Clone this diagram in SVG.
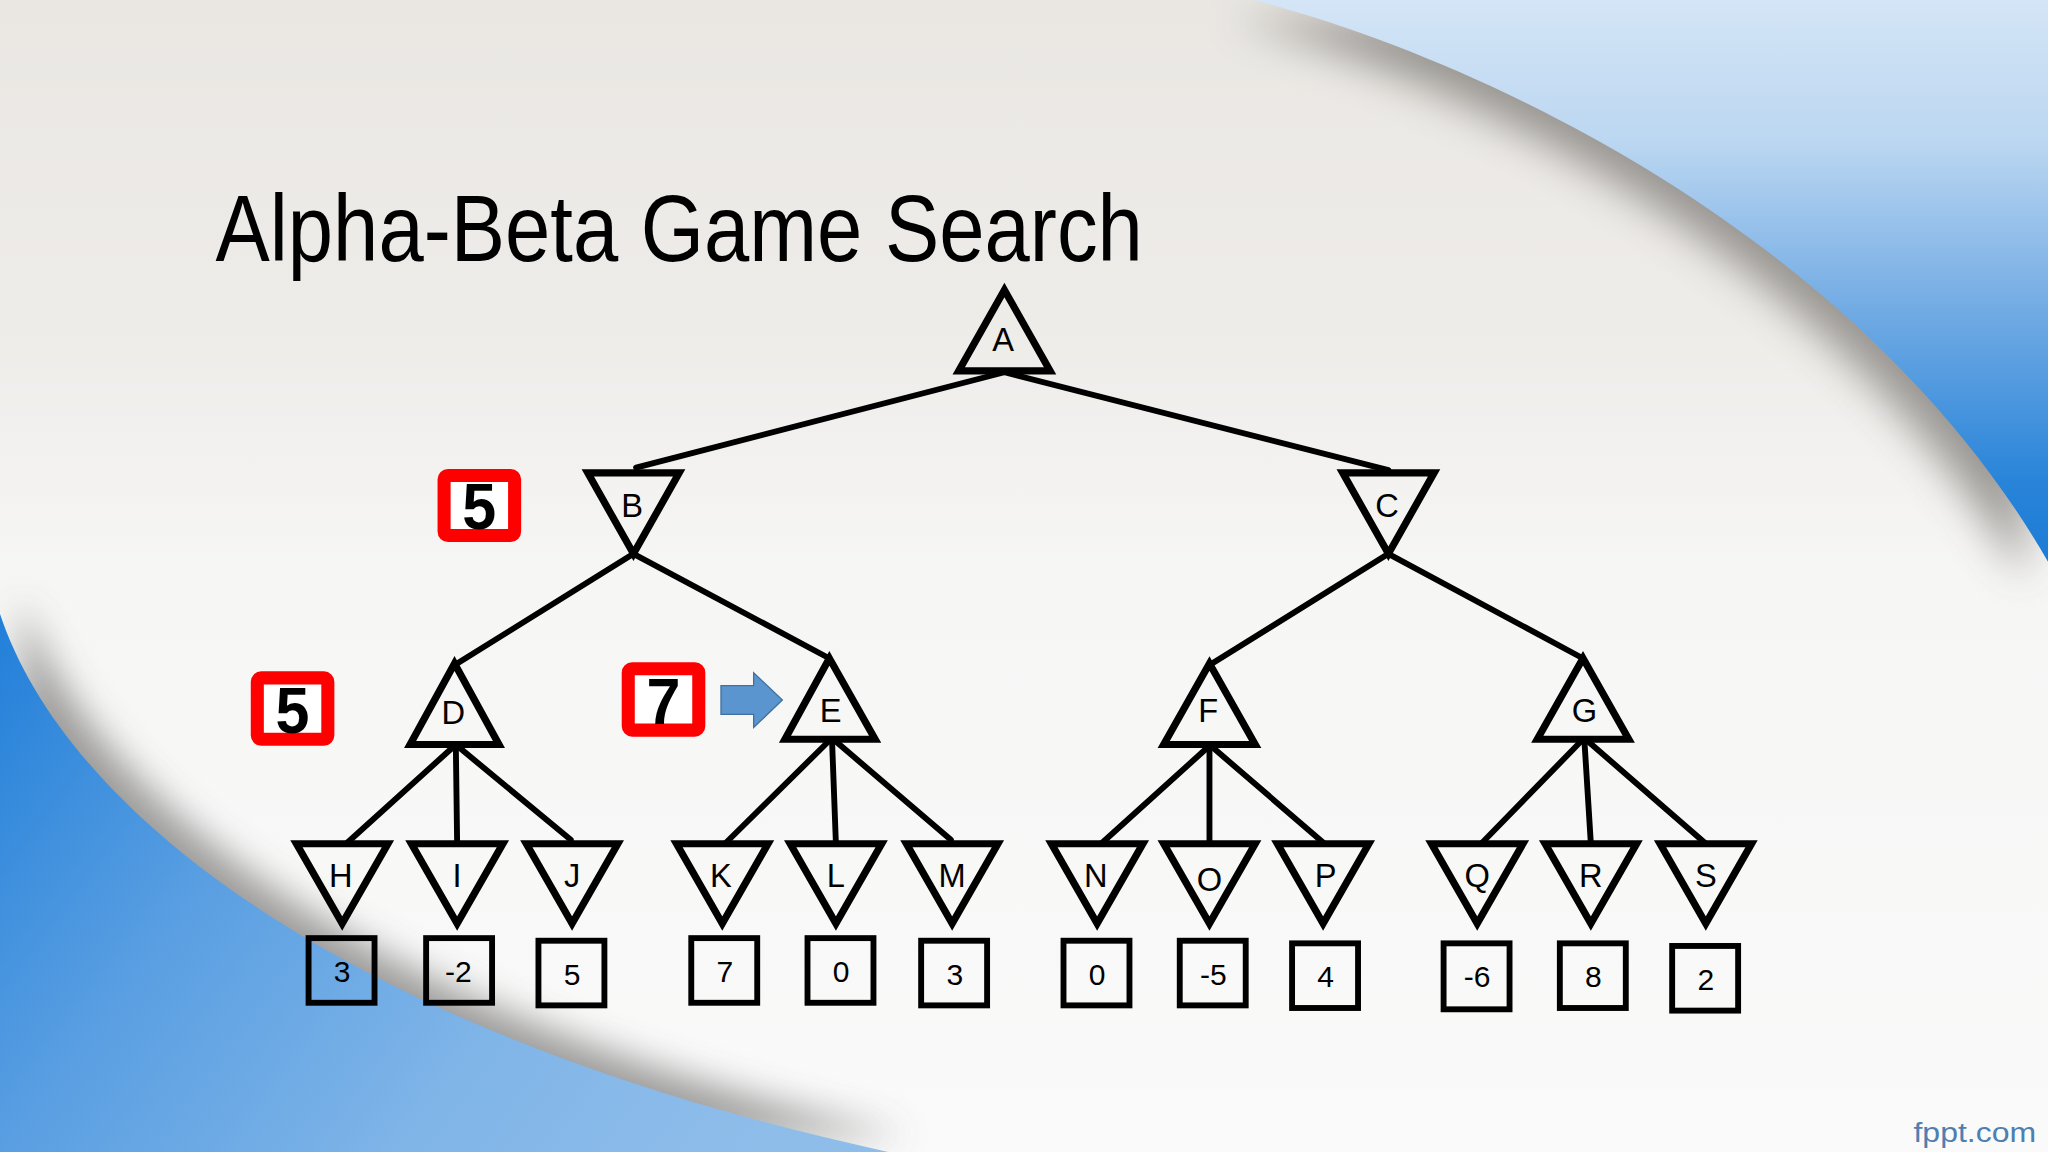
<svg xmlns="http://www.w3.org/2000/svg" width="2048" height="1152" viewBox="0 0 2048 1152">
  <defs>
    <linearGradient id="bg" x1="0" y1="0" x2="0" y2="1">
      <stop offset="0" stop-color="#eae7e3"/>
      <stop offset="0.28" stop-color="#eeece9"/>
      <stop offset="0.5" stop-color="#f6f6f5"/>
      <stop offset="1" stop-color="#fafafa"/>
    </linearGradient>
    <linearGradient id="blueTRu" x1="0" y1="0" x2="0" y2="430" gradientUnits="userSpaceOnUse">
      <stop offset="0" stop-color="#d4e5f6"/>
      <stop offset="0.25" stop-color="#bcd7f1"/>
      <stop offset="0.55" stop-color="#72abe4"/>
      <stop offset="0.85" stop-color="#2a85d9"/>
      <stop offset="1" stop-color="#1b7bd6"/>
    </linearGradient>
    <linearGradient id="blueBL" x1="0" y1="480" x2="560" y2="900" gradientUnits="userSpaceOnUse">
      <stop offset="0" stop-color="#2380d9"/>
      <stop offset="0.35" stop-color="#5a9fe2"/>
      <stop offset="0.7" stop-color="#80b5e8"/>
      <stop offset="1" stop-color="#8fbdea"/>
    </linearGradient>
    <filter id="soft" x="-50%" y="-50%" width="200%" height="200%">
      <feGaussianBlur stdDeviation="16"/>
    </filter>
    <filter id="soft2" x="-50%" y="-50%" width="200%" height="200%">
      <feGaussianBlur stdDeviation="14"/>
    </filter>
    <style>
      .tri { fill: none; stroke: #000; stroke-width: 5.5; stroke-linejoin: miter; }
      .edge { stroke: #000; stroke-width: 4.5; fill: none; stroke-linecap: round; }
      .lbl { font-family: "Liberation Sans", Arial, sans-serif; font-size: 25px; fill: #000; text-anchor: middle; }
      .box { fill: none; stroke: #000; stroke-width: 4.5; }
      .val { font-family: "Liberation Sans", Arial, sans-serif; font-size: 23px; fill: #000; text-anchor: middle; }
      .rbox { fill: #ffffff; stroke: #ff0000; stroke-width: 10; }
      .rval { font-family: "Liberation Sans", Arial, sans-serif; font-size: 50px; font-weight: bold; fill: #000; text-anchor: middle; }
    </style>
  </defs>

  <g transform="scale(1.3061224)">
    <g id="background">
      <rect x="0" y="0" width="1568" height="882" fill="url(#bg)"/>
      <path d="M 960,0 C 1150,50 1430,190 1568,430 L 1568,0 Z" fill="#8a8783" opacity="0.85" transform="translate(-18,14)" filter="url(#soft)"/>
      <path d="M 960,0 C 1150,50 1430,190 1568,430 L 1568,0 Z" fill="url(#blueTRu)"/>
      <path d="M 0,470 C 50,620 260,790 680,882 L 0,882 Z" fill="#8c8b8a" opacity="0.85" transform="translate(16,-12)" filter="url(#soft2)"/>
      <path d="M 0,470 C 50,620 260,790 680,882 L 0,882 Z" fill="url(#blueBL)"/>
    </g>

    <text id="title" x="165" y="200" font-family="Liberation Sans, Arial, sans-serif" font-size="73" fill="#000" textLength="710" lengthAdjust="spacingAndGlyphs">Alpha-Beta Game Search</text>

    <g id="connectors">
      <line class="edge" x1="769" y1="285" x2="487" y2="358"/>
      <line class="edge" x1="769" y1="285" x2="1063" y2="360"/>
      <line class="edge" x1="485" y1="424" x2="350" y2="508"/>
      <line class="edge" x1="485" y1="424" x2="633" y2="503"/>
      <line class="edge" x1="1063" y1="424" x2="928" y2="508"/>
      <line class="edge" x1="1063" y1="424" x2="1210" y2="503"/>
      <line class="edge" x1="348" y1="571" x2="265" y2="646"/>
      <line class="edge" x1="349" y1="571" x2="350" y2="646"/>
      <line class="edge" x1="350" y1="571" x2="437" y2="643"/>
      <line class="edge" x1="636" y1="566" x2="555" y2="646"/>
      <line class="edge" x1="637" y1="566" x2="640" y2="646"/>
      <line class="edge" x1="638" y1="566" x2="728" y2="643"/>
      <line class="edge" x1="926" y1="571" x2="843" y2="646"/>
      <line class="edge" x1="926" y1="571" x2="926" y2="646"/>
      <line class="edge" x1="927" y1="571" x2="1013" y2="645"/>
      <line class="edge" x1="1212" y1="566" x2="1134" y2="646"/>
      <line class="edge" x1="1213" y1="566" x2="1218" y2="646"/>
      <line class="edge" x1="1214" y1="566" x2="1305" y2="645"/>
    </g>

    <g id="node-A"><polygon class="tri" points="769,222 734,284 804,284"/><text class="lbl" x="768" y="269">A</text></g>
    <g id="node-B"><polygon class="tri" points="450,362 520,362 485,424"/><text class="lbl" x="484" y="396">B</text></g>
    <g id="node-C"><polygon class="tri" points="1028,362 1098,362 1063,424"/><text class="lbl" x="1062" y="396">C</text></g>
    <g id="node-D"><polygon class="tri" points="348,508 314,570 382,570"/><text class="lbl" x="347" y="554">D</text></g>
    <g id="node-E"><polygon class="tri" points="635,504 601,566 670,566"/><text class="lbl" x="636" y="553">E</text></g>
    <g id="node-F"><polygon class="tri" points="926,508 891,570 961,570"/><text class="lbl" x="925" y="553">F</text></g>
    <g id="node-G"><polygon class="tri" points="1212,504 1177,566 1247,566"/><text class="lbl" x="1213" y="553">G</text></g>

    <g id="node-H"><polygon class="tri" points="227,646 297,646 262,707"/><text class="lbl" x="261" y="679">H</text></g>
    <g id="node-I"><polygon class="tri" points="315,646 385,646 350,707"/><text class="lbl" x="350" y="679">I</text></g>
    <g id="node-J"><polygon class="tri" points="403,646 473,646 438,707"/><text class="lbl" x="438" y="679">J</text></g>
    <g id="node-K"><polygon class="tri" points="518,646 588,646 553,707"/><text class="lbl" x="552" y="679">K</text></g>
    <g id="node-L"><polygon class="tri" points="605,646 675,646 640,707"/><text class="lbl" x="640" y="679">L</text></g>
    <g id="node-M"><polygon class="tri" points="694,646 764,646 729,707"/><text class="lbl" x="729" y="679">M</text></g>
    <g id="node-N"><polygon class="tri" points="805,646 875,646 840,707"/><text class="lbl" x="839" y="679">N</text></g>
    <g id="node-O"><polygon class="tri" points="891,646 961,646 926,707"/><text class="lbl" x="926" y="682">O</text></g>
    <g id="node-P"><polygon class="tri" points="978,646 1048,646 1013,707"/><text class="lbl" x="1015" y="679">P</text></g>
    <g id="node-Q"><polygon class="tri" points="1096,646 1166,646 1131,707"/><text class="lbl" x="1131" y="679">Q</text></g>
    <g id="node-R"><polygon class="tri" points="1183,646 1253,646 1218,707"/><text class="lbl" x="1218" y="679">R</text></g>
    <g id="node-S"><polygon class="tri" points="1271,646 1341,646 1306,707"/><text class="lbl" x="1306" y="679">S</text></g>

    <g id="leaf-H"><rect class="box" x="236.25" y="718.25" width="50.5" height="49.5"/><text class="val" x="262" y="752">3</text></g>
    <g id="leaf-I"><rect class="box" x="326.25" y="718.25" width="50.5" height="49.5"/><text class="val" x="351" y="752">-2</text></g>
    <g id="leaf-J"><rect class="box" x="412.25" y="720.25" width="50.5" height="49.5"/><text class="val" x="438" y="754">5</text></g>
    <g id="leaf-K"><rect class="box" x="529.25" y="718.25" width="50.5" height="49.5"/><text class="val" x="555" y="752">7</text></g>
    <g id="leaf-L"><rect class="box" x="618.25" y="718.25" width="50.5" height="49.5"/><text class="val" x="644" y="752">0</text></g>
    <g id="leaf-M"><rect class="box" x="705.25" y="720.25" width="50.5" height="49.5"/><text class="val" x="731" y="754">3</text></g>
    <g id="leaf-N"><rect class="box" x="814.25" y="720.25" width="50.5" height="49.5"/><text class="val" x="840" y="754">0</text></g>
    <g id="leaf-O"><rect class="box" x="903.25" y="720.25" width="50.5" height="49.5"/><text class="val" x="929" y="754">-5</text></g>
    <g id="leaf-P"><rect class="box" x="989.25" y="722.25" width="50.5" height="49.5"/><text class="val" x="1015" y="756">4</text></g>
    <g id="leaf-Q"><rect class="box" x="1105.25" y="722.25" width="50.5" height="50.5"/><text class="val" x="1131" y="756">-6</text></g>
    <g id="leaf-R"><rect class="box" x="1194.25" y="722.25" width="50.5" height="49.5"/><text class="val" x="1220" y="756">8</text></g>
    <g id="leaf-S"><rect class="box" x="1280.25" y="724.25" width="50.5" height="49.5"/><text class="val" x="1306" y="758">2</text></g>

    <g id="value-B"><rect class="rbox" x="340" y="364" width="54" height="46" rx="3"/><text class="rval" x="367" y="405" textLength="26" lengthAdjust="spacingAndGlyphs">5</text></g>
    <g id="value-D"><rect class="rbox" x="197" y="519" width="54" height="47" rx="3"/><text class="rval" x="224" y="561" textLength="26" lengthAdjust="spacingAndGlyphs">5</text></g>
    <g id="value-E"><rect class="rbox" x="481" y="512" width="54" height="47" rx="3"/><text class="rval" x="508" y="554" textLength="26" lengthAdjust="spacingAndGlyphs">7</text></g>

    <g id="pointer-arrow"><polygon points="552,525 577,525 577,515 599,536 577,557 577,547 552,547" fill="#5b95d0" stroke="#41719c" stroke-width="1"/></g>

    <text id="watermark" x="1465" y="874" font-family="Liberation Sans, Arial, sans-serif" font-size="21" fill="#4f7fb0" textLength="94" lengthAdjust="spacingAndGlyphs">fppt.com</text>
  </g>
</svg>
